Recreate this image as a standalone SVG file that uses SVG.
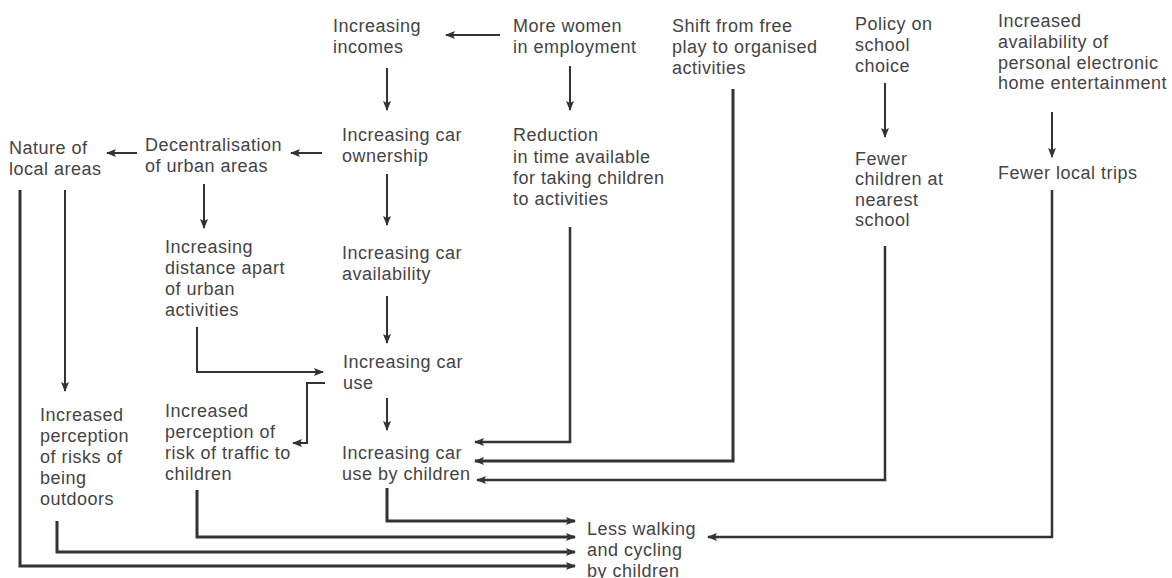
<svg xmlns="http://www.w3.org/2000/svg" width="1172" height="578" viewBox="0 0 1172 578">
<defs>
<marker id="ah" markerUnits="userSpaceOnUse" markerWidth="11" markerHeight="9" refX="9" refY="4.5" orient="auto">
<path d="M0,0.5 L10,4.5 L0,8.5 L2,4.5 z" fill="#333"/>
</marker>
<style>
text{font-family:"Liberation Sans",Arial,sans-serif;font-size:18px;letter-spacing:0.5px;fill:#444}
.c{fill:none;stroke:#333;stroke-width:2}
.a{marker-end:url(#ah)}
.t{stroke-width:3}
.m{stroke-width:2.5}
</style>
</defs>
<rect width="1172" height="578" fill="#fff"/>
<g id="connectors">
<path class="c a" d="M500,35 H446"/>
<path class="c a" d="M570,66 V110"/>
<path class="c a" d="M387,68 V110"/>
<path class="c a" d="M322,153 H291"/>
<path class="c a" d="M137,153 H107"/>
<path class="c a" d="M387,174 V225"/>
<path class="c a" d="M204,184 V228"/>
<path class="c a" d="M387,296 V343"/>
<path class="c a" d="M197,327 V372 H323"/>
<path class="c a" d="M65,190 V391"/>
<path class="c a" d="M325,383 H307 V443 H293"/>
<path class="c a" d="M387,398 V430"/>
<path class="c a m" d="M570,227 V442 H475"/>
<path class="c a t" d="M733,89 V461 H475"/>
<path class="c a" d="M885,83 V137"/>
<path class="c a m" d="M885,246 V480 H477"/>
<path class="c a" d="M1052,112 V157"/>
<path class="c a m" d="M1052,190 V537 H708"/>
<path class="c a t" d="M387,488 V521 H575"/>
<path class="c a t" d="M197,490 V537 H575"/>
<path class="c a t" d="M57,521 V552 H575"/>
<path class="c a t" d="M20,190 V566 H575"/>
</g>
<g id="n-incomes"><text x="333" y="32">Increasing</text><text x="333" y="53">incomes</text></g>
<g id="n-women"><text x="513" y="32">More women</text><text x="513" y="53">in employment</text></g>
<g id="n-shift"><text x="672" y="32">Shift from free</text><text x="672" y="53">play to organised</text><text x="672" y="74">activities</text></g>
<g id="n-policy"><text x="855" y="30">Policy on</text><text x="855" y="51">school</text><text x="855" y="72">choice</text></g>
<g id="n-entertainment"><text x="998" y="27">Increased</text><text x="998" y="48">availability of</text><text x="998" y="69">personal electronic</text><text x="998" y="89">home entertainment</text></g>
<g id="n-nature"><text x="9" y="154">Nature of</text><text x="9" y="175">local areas</text></g>
<g id="n-decentral"><text x="145" y="151">Decentralisation</text><text x="145" y="172">of urban areas</text></g>
<g id="n-ownership"><text x="342" y="141">Increasing car</text><text x="342" y="162">ownership</text></g>
<g id="n-reduction"><text x="513" y="141">Reduction</text><text x="513" y="163">in time available</text><text x="513" y="184">for taking children</text><text x="513" y="205">to activities</text></g>
<g id="n-fewerchildren"><text x="855" y="165">Fewer</text><text x="855" y="185">children at</text><text x="855" y="206">nearest</text><text x="855" y="226">school</text></g>
<g id="n-fewertrips"><text x="998" y="179">Fewer local trips</text></g>
<g id="n-distance"><text x="165" y="253">Increasing</text><text x="165" y="274">distance apart</text><text x="165" y="295">of urban</text><text x="165" y="316">activities</text></g>
<g id="n-availability"><text x="342" y="259">Increasing car</text><text x="342" y="280">availability</text></g>
<g id="n-caruse"><text x="343" y="368">Increasing car</text><text x="343" y="389">use</text></g>
<g id="n-traffic"><text x="165" y="417">Increased</text><text x="165" y="438">perception of</text><text x="165" y="459">risk of traffic to</text><text x="165" y="480">children</text></g>
<g id="n-outdoors"><text x="40" y="421">Increased</text><text x="40" y="442">perception</text><text x="40" y="463">of risks of</text><text x="40" y="484">being</text><text x="40" y="505">outdoors</text></g>
<g id="n-childuse"><text x="342" y="459">Increasing car</text><text x="342" y="480">use by children</text></g>
<g id="n-less"><text x="587" y="535">Less walking</text><text x="587" y="556">and cycling</text><text x="587" y="577">by children</text></g>
</svg>
